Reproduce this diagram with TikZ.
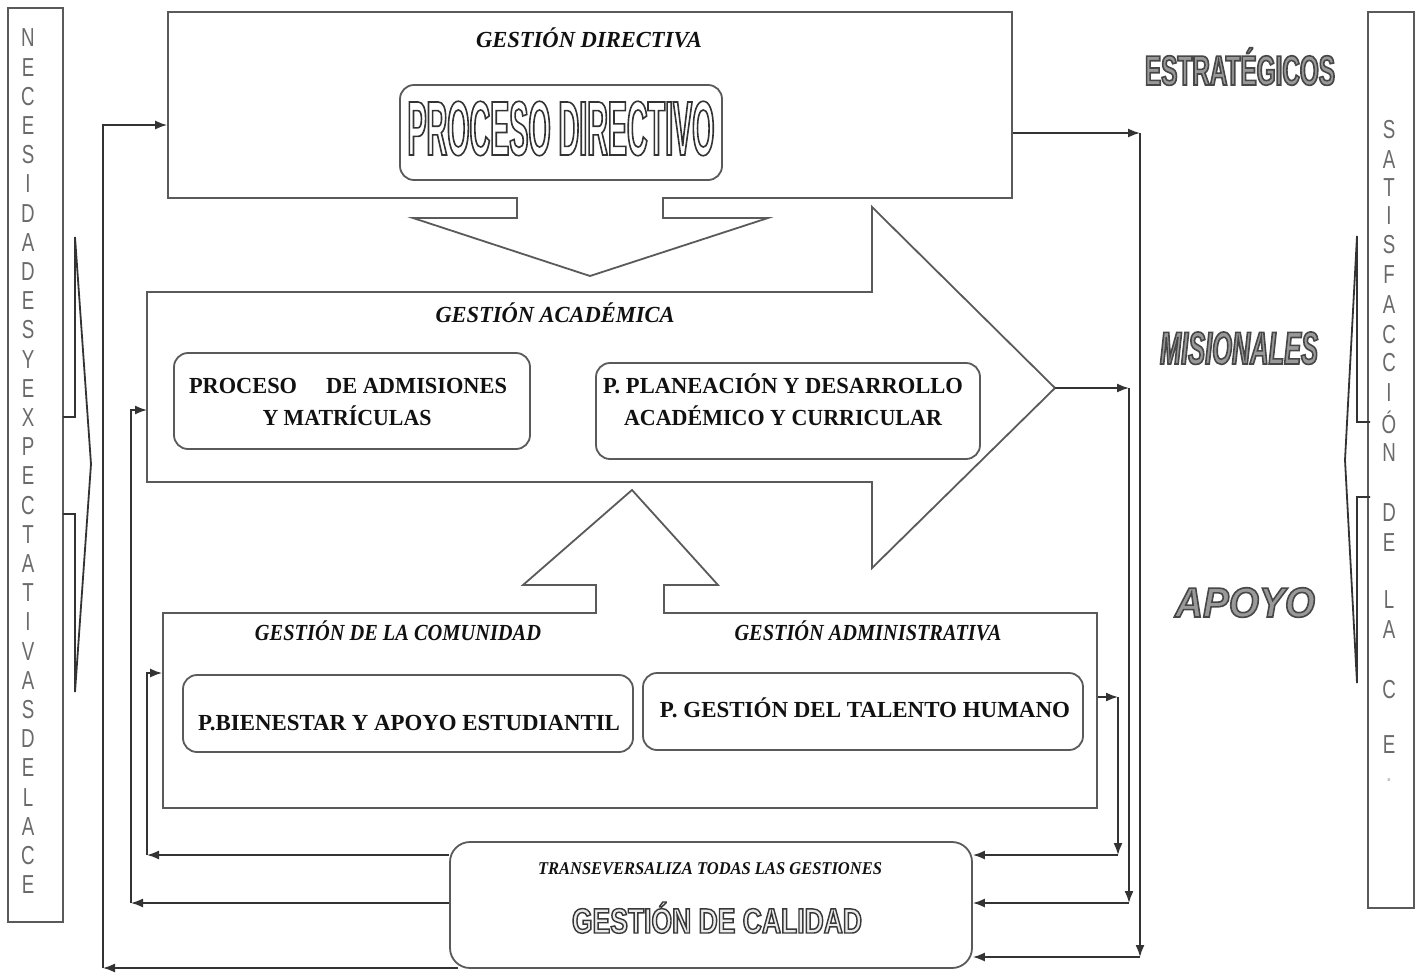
\documentclass[tikz,border=0pt]{standalone}
\usepackage{fontspec}
\setmainfont{Liberation Serif}
\newfontfamily\sansf{Liberation Sans}
\newfontfamily\pdfont[FakeStretch=0.37]{Liberation Sans}
\newfontfamily\estfont[FakeStretch=0.57]{Liberation Sans}
\newfontfamily\misfont[FakeStretch=0.55]{Liberation Sans}
\newfontfamily\apofont[FakeStretch=0.92]{Liberation Sans}
\newfontfamily\calfont[FakeStretch=0.74]{Liberation Sans}
\usepackage{graphicx}
\usetikzlibrary{arrows.meta}
\definecolor{ln}{HTML}{333333}
\definecolor{bx}{HTML}{5A5A5A}
\definecolor{tx}{HTML}{111111}
\definecolor{lt}{HTML}{6A6A6A}
\newcommand{\fitw}[2]{\resizebox{#1}{\height}{#2}}
% outlined text: #1 text, #2 fill colour, #3 line width, #4 stroke colour (pdf operator)
\newcommand{\strk}[4]{{\color{#2}\special{pdf:literal direct 2 Tr #3 w #4}#1\special{pdf:literal direct 0 Tr}}}
\tikzset{
 conn/.style={draw=ln, line width=1.6pt},
 arr/.style={-{Latex[length=12pt,width=9pt]}},
 boxline/.style={draw=bx, line width=1.8pt},
 plainbox/.style={boxline, rectangle, inner sep=0pt},
 roundbox/.style={boxline, rectangle, rounded corners=14pt, inner sep=0pt},
 ttl/.style={inner sep=0pt, anchor=base, text=tx, font=\bfseries\itshape\fontsize{23}{23}\selectfont},
 btxt/.style={inner sep=0pt, anchor=base, text=tx, font=\bfseries\fontsize{23}{23}\selectfont},
 sidel/.style={inner sep=0pt, text=lt, font=\sansf\fontsize{26}{26}\selectfont},
 deco/.style={inner sep=0pt, anchor=base},
}
\begin{document}
\begin{tikzpicture}[x=1pt,y=-1pt]
\useasboundingbox (0,0) rectangle (1423,975);
\fill[white] (0,0) rectangle (1423,975);

% ---------- side boxes ----------
\node[plainbox, minimum width=55pt, minimum height=914pt] (lbox) at (35.5,465) {};
\node[plainbox, minimum width=46pt, minimum height=896pt] (rsbox) at (1391,460) {};
\foreach \ch [count=\i from 0] in {N,E,C,E,S,I,D,A,D,E,S,Y,E,X,P,E,C,T,A,T,I,V,A,S,D,E,L,A,C,E}
  \node[sidel] (nl\i) at (28,{38+29.2*\i}) {\scalebox{0.72}[1]{\ch}};
\foreach \ch/\yy [count=\i] in {S/130,A/160,T/188,I/216,S/245,F/275,A/305,C/335,C/363,I/393,Ó/422,N/453,D/513,E/543,L/600,A/630,C/690,E/745}
  \node[sidel] (nr\i) at (1389,\yy) {\scalebox{0.72}[1]{\ch}};
\node[sidel, text=lt!40] (nrdot) at (1389,780) {.};

% side block arrows
\draw[boxline, draw=ln] (63,417) -- (75,417) -- (75,237) -- (91,464) -- (75,692) -- (75,514) -- (63,514);
\draw[boxline, draw=ln] (1370,422) -- (1357,422) -- (1357,236) -- (1345,460) -- (1357,683) -- (1357,497) -- (1370,497);

% ---------- gestion directiva ----------
\node[plainbox, minimum width=844pt, minimum height=186pt] (dir) at (590,105) {};
\node[ttl] (tdir) at (589,47) {\fitw{226pt}{GESTIÓN DIRECTIVA}};
\node[roundbox, minimum width=322pt, minimum height=95pt] (pdir) at (561,132.5) {};
\node[deco] (tpdir) at (561,155) {\fitw{307pt}{\strk{\pdfont\bfseries\fontsize{77}{77}\selectfont PROCESO DIRECTIVO}{white}{1.6}{0.2 G}}};

% down block arrow
\fill[white] (518,194) rectangle (662,217);
\draw[boxline] (517,198) -- (517,218) -- (413,218) -- (590,276) -- (768,218) -- (663,218) -- (663,198);

% ---------- gestion academica ----------
\draw[boxline] (147,292) -- (872,292) -- (872,207) -- (1055,388) -- (872,568) -- (872,482) -- (147,482) -- cycle;
\coordinate (acadW) at (147,410);
\coordinate (acadtip) at (1055,388);
\node[ttl] (tacad) at (555,322) {\fitw{239pt}{GESTIÓN ACADÉMICA}};
\node[roundbox, minimum width=356pt, minimum height=96pt] (adm) at (352,401) {};
\node[btxt] (tadm1) at (348,393) {\fitw{318pt}{PROCESO\hspace{1.3em}DE ADMISIONES}};
\node[btxt] (tadm2) at (347,425) {\fitw{169pt}{Y MATRÍCULAS}};
\node[roundbox, minimum width=384pt, minimum height=96pt] (plan) at (788,411) {};
\node[btxt] (tplan1) at (783,393) {\fitw{360pt}{P. PLANEACIÓN Y DESARROLLO}};
\node[btxt] (tplan2) at (783,425) {\fitw{318pt}{ACADÉMICO Y CURRICULAR}};

% ---------- comunidad / administrativa ----------
\node[plainbox, minimum width=934pt, minimum height=195pt] (bot) at (630,710.5) {};
\node[ttl] (tcom) at (398,640) {\fitw{286pt}{GESTIÓN DE LA COMUNIDAD}};
\node[ttl] (tadmin) at (868,640) {\fitw{267pt}{GESTIÓN ADMINISTRATIVA}};
\node[roundbox, minimum width=450pt, minimum height=77pt] (bien) at (408,713.5) {};
\node[btxt] (tbien) at (409,730) {\fitw{422pt}{P.BIENESTAR Y APOYO ESTUDIANTIL}};
\node[roundbox, minimum width=440pt, minimum height=77pt] (tal) at (863,711.5) {};
\node[btxt] (ttal) at (865,717) {\fitw{410pt}{P. GESTIÓN DEL TALENTO HUMANO}};

% up block arrow
\fill[white] (597,584) rectangle (663,616);
\draw[boxline] (596,613) -- (596,585) -- (523,585) -- (632,490) -- (718,585) -- (664,585) -- (664,613);

% ---------- gestion de calidad ----------
\node[roundbox, minimum width=522pt, minimum height=126pt, rounded corners=20pt] (qual) at (711,905) {};
\node[ttl, font=\bfseries\itshape\fontsize{18}{18}\selectfont] (tqual1) at (710,874) {\fitw{344pt}{TRANSEVERSALIZA TODAS LAS GESTIONES}};
\node[deco] (tqual2) at (717,933) {\fitw{290pt}{\strk{\calfont\bfseries\fontsize{35}{35}\selectfont GESTIÓN DE CALIDAD}{black!8}{1.4}{0.22 G}}};

% ---------- category labels ----------
\node[deco] (cest) at (1240,85) {\fitw{190pt}{\strk{\estfont\bfseries\fontsize{42}{42}\selectfont ESTRATÉGICOS}{black!40}{1.6}{0.28 G}}};
\node[deco] (cmis) at (1239,364) {\fitw{158pt}{\strk{\misfont\bfseries\itshape\fontsize{46}{46}\selectfont MISIONALES}{black!40}{1.6}{0.28 G}}};
\node[deco] (capo) at (1245,617) {\fitw{140pt}{\strk{\apofont\bfseries\itshape\fontsize{42}{42}\selectfont APOYO}{black!40}{1.6}{0.28 G}}};

% ---------- connectors ----------
\coordinate (r1) at (1140,133);
\coordinate (r1b) at (1140,957);
\coordinate (r2) at (1129,388);
\coordinate (r2b) at (1129,903);
\coordinate (r3) at (1118,697);
\coordinate (r3b) at (1118,855);
\coordinate (l1) at (103,125);
\coordinate (l1b) at (103,968);
\coordinate (l2) at (131,410);
\coordinate (l2b) at (131,903);
\coordinate (l3) at (147,673);
\coordinate (l3b) at (147,855);
\coordinate (qbl) at (458,968);

\draw[conn,arr] (dir.east |- r1) -- (r1);
\draw[conn,arr] (r1) -- (r1b);
\draw[conn,arr] (r1b) -- (qual.east |- r1b);
\draw[conn,arr] (acadtip) -- (r2);
\draw[conn,arr] (r2) -- (r2b);
\draw[conn,arr] (r2b) -- (qual.east |- r2b);
\draw[conn,arr] (bot.east |- r3) -- (r3);
\draw[conn,arr] (r3) -- (r3b);
\draw[conn,arr] (r3b) -- (qual.east |- r3b);

\draw[conn,arr] (qual.west |- l3b) -- (l3b);
\draw[conn,arr] (l3b) -- (l3) -- (bot.west |- l3);
\draw[conn,arr] (qual.west |- l2b) -- (l2b);
\draw[conn,arr] (l2b) -- (l2) -- (acadW);
\draw[conn,arr] (qbl) -- (l1b);
\draw[conn,arr] (l1b) -- (l1) -- (dir.west |- l1);
\end{tikzpicture}
\end{document}
